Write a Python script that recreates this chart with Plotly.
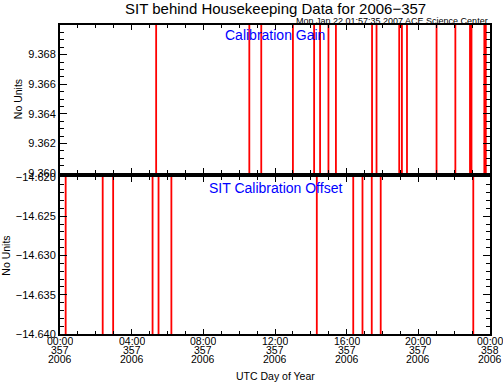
import plotly.graph_objects as go
from datetime import datetime, timedelta

DAY = "2006-12-23"
END = "2006-12-24 00:00"

# transition times (HH:MM); first entry is the start of the day
gain_times = ["00:00", "05:22", "10:34", "11:14", "13:00", "14:11", "14:31", "14:59", "15:24",
              "17:25", "17:40", "18:56", "19:05", "19:22", "21:01", "22:04", "22:53", "22:58",
              "23:41", "23:46"]
gain_values = [9.355, 9.375, 9.355, 9.375, 9.355, 9.375, 9.355, 9.375, 9.355, 9.375,
               9.355, 9.375, 9.355, 9.375, 9.355, 9.375, 9.355, 9.375, 9.355, 9.375]

offset_times = ["00:00", "00:19", "02:23", "02:58", "05:10", "05:30", "06:13", "14:20",
                "16:22", "16:53", "17:24", "17:54", "23:04"]
offset_values = [-14.645, -14.615, -14.645, -14.615, -14.645, -14.615, -14.645,
                 -14.615, -14.645, -14.615, -14.645, -14.615, -14.645]

tick_hours = ["00:00", "04:00", "08:00", "12:00", "16:00", "20:00", "00:00"]
tick_days = ["357", "357", "357", "357", "357", "357", "358"]
tick_years = ["2006", "2006", "2006", "2006", "2006", "2006", "2006"]

gain_ticks = [9.360, 9.362, 9.364, 9.366, 9.368]
offset_ticks = [-14.640, -14.635, -14.630, -14.625, -14.620]

def to_dt(times):
    return [f"{DAY} {t}" for t in times] + [END]

start = datetime(2006, 12, 23)
tick_vals = [(start + timedelta(hours=4 * i)).strftime("%Y-%m-%d %H:%M") for i in range(len(tick_hours))]

FONT = "Liberation Sans, Arial, sans-serif"
RED = "#ff0000"

fig = go.Figure()
fig.add_trace(go.Scatter(x=to_dt(gain_times), y=gain_values + [gain_values[-1]],
                         mode="lines", line=dict(color=RED, width=1.8, shape="hv"),
                         xaxis="x", yaxis="y", showlegend=False, hoverinfo="skip"))
fig.add_trace(go.Scatter(x=to_dt(offset_times), y=offset_values + [offset_values[-1]],
                         mode="lines", line=dict(color=RED, width=1.8, shape="hv"),
                         xaxis="x2", yaxis="y2", showlegend=False, hoverinfo="skip"))

xcommon = dict(range=[f"{DAY} 00:00", END], showgrid=False, zeroline=False, automargin=False,
               showline=True, linecolor="black", linewidth=2, mirror="ticks",
               ticks="inside", ticklen=5, tickcolor="black", tickwidth=1,
               tickmode="array", tickvals=tick_vals, showticklabels=False,
               minor=dict(ticks="inside", ticklen=3, dtick=3600000, tick0=f"{DAY} 00:00",
                          tickcolor="black", showgrid=False))
ycommon = dict(showgrid=False, zeroline=False, showline=True, linecolor="black", automargin=False,
               linewidth=2, mirror="ticks", ticks="inside", ticklen=7, tickcolor="black",
               tickwidth=1, tickfont=dict(family=FONT, size=11, color="black"),
               title=dict(text="No Units", font=dict(family=FONT, size=10.5, color="black"), standoff=4))

fig.update_layout(
    width=503, height=382,
    margin=dict(l=60, r=13, t=25, b=48, autoexpand=False),
    paper_bgcolor="white", plot_bgcolor="white",
    xaxis=dict(domain=[0, 1], anchor="y", **xcommon),
    xaxis2=dict(domain=[0, 1], anchor="y2", **xcommon),
    yaxis=dict(domain=[0.521, 1], anchor="x", range=[9.360, 9.370],
               tickmode="array", tickvals=gain_ticks, ticktext=[f"{v:.3f}" for v in gain_ticks],
               minor=dict(ticks="inside", ticklen=4, tickmode="linear", tick0=9.360, dtick=0.0005,
                          tickcolor="black", showgrid=False),
               **ycommon),
    yaxis2=dict(domain=[0, 0.508], anchor="x2", range=[-14.640, -14.620],
                tickmode="array", tickvals=offset_ticks,
                ticktext=[f"\u2212{abs(v):.3f}" for v in offset_ticks],
                minor=dict(ticks="inside", ticklen=4, tickmode="linear", tick0=-14.640, dtick=0.001,
                           tickcolor="black", showgrid=False),
                **ycommon),
    font=dict(family=FONT, color="black"),
)

ann = []
ann.append(dict(text="SIT behind Housekeeping Data for 2006\u2212357", xref="paper", yref="paper",
                x=0.5, y=1, yshift=17, yanchor="middle", xanchor="center", showarrow=False,
                font=dict(family=FONT, size=15, color="black")))
ann.append(dict(text="Mon Jan 22 01:57:35 2007 ACE Science Center", xref="paper", yref="paper",
                x=1, y=1, yshift=4, yanchor="middle", xanchor="right", showarrow=False,
                font=dict(family=FONT, size=9, color="black")))
ann.append(dict(text="Calibration Gain", xref="paper", yref="paper", x=0.5, y=1, yshift=-10,
                yanchor="middle", xanchor="center", showarrow=False,
                font=dict(family=FONT, size=14, color="#0000ff")))
ann.append(dict(text="SIT Calibration Offset", xref="paper", yref="paper", x=0.5, y=0.508, yshift=-11,
                yanchor="middle", xanchor="center", showarrow=False,
                font=dict(family=FONT, size=14, color="#0000ff")))
for tv, h, d, yr in zip(tick_vals, tick_hours, tick_days, tick_years):
    for k, s in enumerate([h, d, yr]):
        ann.append(dict(text=s, x=tv, xref="x2", yref="paper", y=0, yshift=-6 - 9 * k,
                        yanchor="middle", xanchor="center", showarrow=False, height=9,
                        font=dict(family=FONT, size=10.5, color="black")))
ann.append(dict(text="UTC Day of Year", xref="paper", yref="paper", x=0.5, y=0, yshift=-42,
                yanchor="middle", xanchor="center", showarrow=False,
                font=dict(family=FONT, size=10.5, color="black")))
fig.update_layout(annotations=ann)

fig.write_html("out.html", config={"displayModeBar": False},
               post_script="document.body.style.margin='0';")
